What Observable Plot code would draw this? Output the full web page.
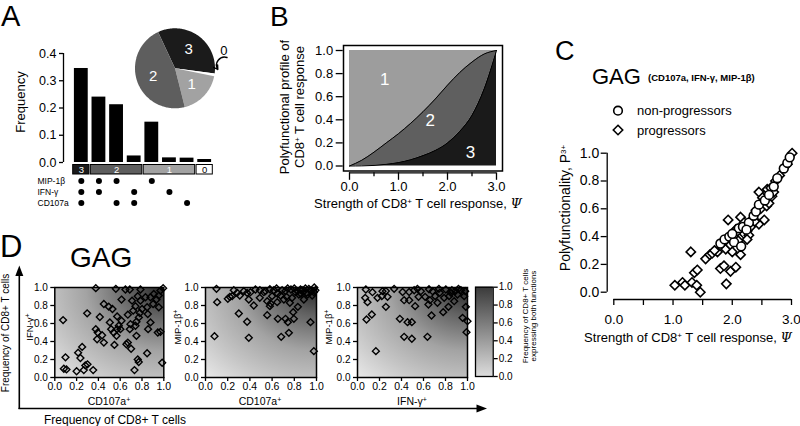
<!DOCTYPE html>
<html><head><meta charset="utf-8">
<script src="https://cdn.jsdelivr.net/npm/d3@7"></script>
<script src="https://cdn.jsdelivr.net/npm/@observablehq/plot@0.6"></script>
<style>
html,body{margin:0;padding:0;background:#fff;}
#root{position:relative;width:800px;height:426px;overflow:hidden;font-family:"Liberation Sans",Arial,sans-serif;}
.p{position:absolute;}
.p svg{overflow:visible;display:block;}
#ov{position:absolute;left:0;top:0;pointer-events:none;font-family:"Liberation Sans",Arial,sans-serif;}
</style></head><body><div id="root"></div>
<script>
// ---------- DATA ----------
// Panel A: frequency of each function combination
const aFrequency = [0.345, 0.24, 0.212, 0.024, 0.148, 0.017, 0.016, 0.011];
const aMIP = [1, 1, 1, 0, 1, 0, 0, 0];
const aIFN = [1, 1, 0, 1, 0, 1, 0, 0];
const aCD107 = [1, 0, 1, 1, 0, 0, 1, 0];
const aMarkers = ["MIP-1β", "IFN-γ", "CD107a"];
const aYTicks = [0, 0.1, 0.2, 0.3, 0.4];
const aGroupNames = ["3", "2", "1", "0"];
const aGroupStart = [0, 1, 4, 7];
const aGroupEnd = [1, 4, 7, 8];
const aPieOrder = ["3", "0", "1", "2"];
const groupColor = {"3": "#1b1b1b", "2": "#5e5e5e", "1": "#a2a2a2", "0": "#ffffff"};

// Panel B: boundaries between 1, 2 and 3 functions
const bPsi   = [0, 0.25, 0.5, 0.75, 1.0, 1.25, 1.5, 1.75, 2.0, 2.25, 2.5, 2.75, 3.0];
const bUpper = [0, 0.05, 0.12, 0.2, 0.28, 0.37, 0.47, 0.58, 0.7, 0.81, 0.9, 0.97, 1.0];
const bLower = [0, 0.001, 0.005, 0.015, 0.03, 0.055, 0.09, 0.135, 0.2, 0.3, 0.44, 0.67, 1.0];
const bRegion = ["1", "2", "3"];
const bRegionX = [0.72, 1.65, 2.47];
const bRegionY = [0.75, 0.39, 0.12];
const bXTicks = [0, 1, 2, 3];
const bXMinor = [0.5, 1.5, 2.5];
const bYTicks = [0, 0.2, 0.4, 0.6, 0.8, 1.0];

// Panel C
const cNonX = [1.80,1.87,1.95,2.03,2.07,2.11,2.18,2.28,2.36,2.40,2.45,2.55,2.62,2.70,2.76,2.87,2.93,2.97,2.00,2.15,2.24];
const cNonY = [0.35,0.38,0.40,0.36,0.44,0.46,0.47,0.50,0.55,0.58,0.63,0.66,0.70,0.76,0.82,0.89,0.93,0.97,0.42,0.33,0.45];
const cProgX = [1.03,1.16,1.20,1.32,1.30,1.36,1.41,1.40,1.46,1.55,1.62,1.66,1.80,1.86,1.90,1.97,2.06,1.93,1.89,1.97,2.00,2.14,2.14,2.06,2.20,2.25,2.28,2.31,2.40,2.45,2.48,2.54,2.45,2.51,2.59,2.67,2.73,2.93,3.01,2.35,2.58,2.65,2.20,2.25,2.80,1.75,1.70,2.10,2.38,2.62,2.70];
const cProgY = [0.05,0.07,0.05,0.07,0.29,0.14,0.16,0.05,0.00,0.24,0.27,0.28,0.17,0.19,0.06,0.15,0.18,0.52,0.31,0.34,0.29,0.27,0.54,0.45,0.42,0.44,0.41,0.47,0.59,0.49,0.60,0.52,0.72,0.68,0.74,0.69,0.80,0.92,1.00,0.53,0.62,0.75,0.50,0.38,0.84,0.29,0.30,0.37,0.51,0.64,0.72];
const cXTicks = [0, 0.5, 1, 1.5, 2, 2.5, 3];
const cYTicks = [0, 0.2, 0.4, 0.6, 0.8, 1.0];

// Panel D
const d1X = [0.076,0.098,0.083,0.107,0.20,0.214,0.251,0.235,0.266,0.28,0.30,0.352,0.297,0.376,0.413,0.376,0.394,0.434,0.388,0.45,0.45,0.495,0.529,0.505,0.517,0.54,0.56,0.572,0.587,0.612,0.566,0.547,0.612,0.648,0.688,0.709,0.67,0.719,0.694,0.688,0.67,0.657,0.70,0.749,0.761,0.77,0.731,0.74,0.761,0.786,0.801,0.78,0.749,0.74,0.786,0.832,0.847,0.853,0.878,0.856,0.847,0.878,0.908,0.933,0.954,0.969,0.902,0.945,0.969,0.985,0.994,0.602,0.572,0.771,0.954];
const d1Y = [0.638,0.224,0.097,0.09,0.07,0.276,0.34,0.216,0.082,0.134,0.146,0.082,0.713,0.993,0.672,0.537,0.50,0.47,0.425,0.388,0.817,0.787,0.761,0.612,0.537,0.50,0.985,0.679,0.575,0.63,0.463,0.362,0.866,0.978,0.978,0.854,0.698,0.743,0.593,0.537,0.388,0.37,0.32,0.463,0.20,0.172,0.082,0.791,0.903,0.854,0.761,0.716,0.619,0.575,0.978,0.892,0.78,0.705,0.612,0.537,0.269,0.892,0.929,0.866,0.91,0.966,0.817,0.50,0.507,0.164,0.993,0.537,0.537,0.668,0.78];
const d2X = [0.081,0.105,0.099,0.201,0.219,0.24,0.255,0.285,0.30,0.309,0.375,0.39,0.39,0.405,0.435,0.45,0.489,0.526,0.556,0.556,0.58,0.586,0.60,0.616,0.652,0.646,0.682,0.676,0.69,0.721,0.73,0.742,0.751,0.76,0.77,0.78,0.79,0.796,0.832,0.841,0.856,0.886,0.91,0.931,0.946,0.961,0.976,0.99,0.345,0.375,0.49,0.54,0.72,0.81,0.87,0.92,0.976,0.706,0.58,0.64,0.65,0.74,0.80,0.83,0.86,0.90,0.95,0.98];
const d2Y = [0.459,0.837,0.985,0.874,0.896,0.904,0.97,0.941,0.711,0.911,0.619,0.441,0.867,0.948,0.80,0.978,0.885,0.948,0.693,0.848,0.793,0.822,0.904,0.97,0.652,0.837,0.452,0.911,0.97,0.652,0.896,0.615,0.496,0.83,0.978,0.885,0.726,0.652,0.785,0.922,0.978,0.867,0.941,0.985,0.615,0.911,0.293,0.97,0.959,0.94,0.97,0.96,0.96,0.948,0.97,0.922,0.948,0.867,0.98,0.99,0.93,0.99,0.99,0.96,0.93,0.99,0.96,1.0];
const d3X = [0.07,0.091,0.082,0.13,0.167,0.076,0.136,0.182,0.221,0.227,0.258,0.273,0.333,0.385,0.424,0.424,0.455,0.47,0.494,0.494,0.524,0.515,0.555,0.576,0.615,0.636,0.645,0.658,0.673,0.682,0.706,0.727,0.748,0.779,0.788,0.803,0.827,0.833,0.858,0.879,0.909,0.918,0.955,0.97,0.979,0.991,0.985,1.0,0.258,0.41,0.47,0.545,0.65,0.74,0.85,0.89,0.94];
const d3Y = [0.885,0.837,0.644,0.70,0.293,0.978,0.948,0.885,0.904,0.959,0.785,0.896,0.985,0.652,0.859,0.452,0.615,0.859,0.615,0.43,0.793,0.97,0.896,0.959,0.896,0.452,0.811,0.859,0.689,0.959,0.904,0.83,0.941,0.726,0.885,0.978,0.785,0.904,0.97,0.848,0.922,0.985,0.663,0.904,0.959,0.504,0.785,0.626,0.96,0.95,0.95,0.985,0.98,0.985,0.94,0.96,0.97];
const dTicks = [0, 0.2, 0.4, 0.6, 0.8, 1.0];

// ---------- HELPERS ----------
const FONT = '"Liberation Sans", Arial, sans-serif';
const root = document.getElementById("root");
const baseStyle = {fontFamily: FONT, fontSize: "12px", color: "#000", background: "transparent", overflow: "visible"};
const f1 = d3.format(".1f");
function place(node, left, top) {
  const w = document.createElement("div");
  w.className = "p"; w.style.left = left + "px"; w.style.top = top + "px";
  w.appendChild(node); root.appendChild(w);
}
function gradientRect(id, kind) {
  return (index, scales, values, dim) => {
    const g = d3.create("svg:g");
    const defs = g.append("defs");
    let gr;
    if (kind === "radial") {
      gr = defs.append("radialGradient").attr("id", id).attr("cx", 1).attr("cy", 0).attr("r", 1.42);
      [[0, "#262626"], [0.22, "#626262"], [0.5, "#a3a3a3"], [0.76, "#c6c6c6"], [1, "#e9e9e9"]]
        .forEach(([o, c]) => gr.append("stop").attr("offset", o).attr("stop-color", c));
    } else {
      gr = defs.append("linearGradient").attr("id", id).attr("x1", 0).attr("y1", 1).attr("x2", 0).attr("y2", 0);
      [[0, "#dcdcdc"], [1, "#3a3a3a"]].forEach(([o, c]) => gr.append("stop").attr("offset", o).attr("stop-color", c));
    }
    g.append("rect").attr("x", dim.marginLeft).attr("y", dim.marginTop)
      .attr("width", dim.width - dim.marginLeft - dim.marginRight)
      .attr("height", dim.height - dim.marginTop - dim.marginBottom)
      .attr("fill", `url(#${id})`);
    return g.node();
  };
}

// ---------- PANEL A: bars ----------
const bars = aFrequency.map((v, i) => ({i, v, n: aMIP[i] + aIFN[i] + aCD107[i]}));
place(Plot.plot({
  width: 230, height: 215, marginLeft: 72, marginRight: 17, marginTop: 53, marginBottom: 53,
  style: baseStyle,
  x: {domain: [0, 8], axis: null},
  y: {domain: [0, 0.4]},
  marks: [
    Plot.rectY(bars, {x1: "i", x2: d => d.i + 1, y: "v", fill: "#000", insetLeft: 1.9, insetRight: 1.9}),
    Plot.ruleX([0], {dx: -9, stroke: "#000", strokeWidth: 1.3}),
    Plot.axisY({ticks: aYTicks, tickFormat: f1, tickSize: 4, tickPadding: 3, dx: -9, fontSize: 12.5, label: null, strokeWidth: 1.3})
  ]
}), 0, 0);

// ---------- PANEL A: group strip + marker dots ----------
const rows = ["grp", ...aMarkers];
const groups = aGroupNames.map((g, k) => ({g, start: aGroupStart[k], end: aGroupEnd[k]}));
const dots = [];
bars.forEach(b => {
  if (aMIP[b.i]) dots.push({i: b.i, row: "MIP-1β"});
  if (aIFN[b.i]) dots.push({i: b.i, row: "IFN-γ"});
  if (aCD107[b.i]) dots.push({i: b.i, row: "CD107a"});
});
place(Plot.plot({
  width: 230, height: 55, marginLeft: 72, marginRight: 17, marginTop: 3, marginBottom: 7,
  style: baseStyle,
  x: {domain: [0, 8], axis: null},
  y: {domain: rows, axis: null, padding: 0},
  color: {type: "identity"},
  marks: [
    Plot.barX(groups, {x1: "start", x2: "end", y: () => "grp", fill: d => groupColor[d.g], stroke: "#000", strokeWidth: 1, insetLeft: 0.7, insetRight: 0.7, insetTop: 0.5, insetBottom: 1}),
    Plot.text(groups, {x: d => (d.start + d.end) / 2, y: () => "grp", dy: -0.5, text: "g", fill: d => d.g === "0" ? "#000" : "#fff", fontSize: 9.5}),
    Plot.dot(dots, {x: d => d.i + 0.5, y: "row", r: 3, fill: "#000", stroke: "none"}),
    Plot.text(aMarkers, {y: d => d, text: d => d, frameAnchor: "left", textAnchor: "start", dx: -35, fontSize: 8.5})
  ]
}), 0, 160);

// ---------- PANEL A: pie ----------
const pieVals = aPieOrder.map(g => ({g, v: d3.sum(bars.filter(b => String(b.n) === g), b => b.v)}));
const arcs = d3.pie().value(d => d.v).sort(null)
  .startAngle(-25 * Math.PI / 180).endAngle(335 * Math.PI / 180)(pieVals);
const pieMarks = arcs.map(a => {
  const n = Math.max(2, Math.ceil((a.endAngle - a.startAngle) / 0.02));
  const pts = [{x: 0, y: 0}];
  for (let k = 0; k <= n; k++) {
    const t = a.startAngle + (a.endAngle - a.startAngle) * k / n;
    pts.push({x: Math.sin(t), y: Math.cos(t)});
  }
  return Plot.line(pts, {x: "x", y: "y", fill: groupColor[a.data.g], stroke: "none", curve: "linear-closed"});
});
const pieLabels = arcs.filter(a => a.data.g !== "0");
place(Plot.plot({
  width: 110, height: 90, marginLeft: 4.5, marginRight: 25.5, marginTop: 2.8, marginBottom: 7.2,
  style: baseStyle,
  x: {domain: [-1, 1], axis: null},
  y: {domain: [-1, 1], axis: null},
  marks: [
    ...pieMarks,
    Plot.text(pieLabels, {
      x: a => 0.58 * Math.sin((a.startAngle + a.endAngle) / 2),
      y: a => 0.58 * Math.cos((a.startAngle + a.endAngle) / 2),
      text: a => a.data.g, fill: "#fff", fontSize: 15
    }),
    Plot.text(["0"], {x: () => 1.22, y: () => 0.43, text: d => d, fontSize: 13, fill: "#000"}),
    Plot.arrow([{x1: 1.3, y1: 0.27, x2: 1.07, y2: -0.03}], {x1: "x1", y1: "y1", x2: "x2", y2: "y2", bend: -70, headLength: 5, stroke: "#000", strokeWidth: 1.4})
  ]
}), 130, 25);

// ---------- PANEL B ----------
const bData = bPsi.map((x, i) => ({x, upper: bUpper[i], lower: bLower[i]}));
const bLab = bRegion.map((t, i) => ({t, x: bRegionX[i], y: bRegionY[i]}));
place(Plot.plot({
  width: 260, height: 185, marginLeft: 79, marginRight: 34, marginTop: 20, marginBottom: 49.5,
  style: baseStyle,
  x: {domain: [0, 3]},
  y: {domain: [0, 1]},
  marks: [
    Plot.areaY(bData, {x: "x", y1: "upper", y2: () => 1, fill: "#9d9d9d", curve: "monotone-x"}),
    Plot.areaY(bData, {x: "x", y1: "lower", y2: "upper", fill: "#5f5f5f", curve: "monotone-x"}),
    Plot.areaY(bData, {x: "x", y1: () => 0, y2: "lower", fill: "#1a1a1a", curve: "monotone-x"}),
    Plot.line(bData, {x: "x", y: "upper", stroke: "#000", strokeWidth: 1, curve: "monotone-x"}),
    Plot.line(bData, {x: "x", y: "lower", stroke: "#000", strokeWidth: 1, curve: "monotone-x"}),
    Plot.text(bLab, {x: "x", y: "y", text: "t", fill: "#fff", fontSize: 17}),
    Plot.frame({stroke: "#000", strokeWidth: 1.5, insetLeft: -6, insetRight: -6, insetTop: -5, insetBottom: -5}),
    Plot.axisY({ticks: bYTicks, tickFormat: f1, tickSize: 7, tickPadding: 3, dx: -6.3, fontSize: 13, label: null, strokeWidth: 1.3}),
    Plot.ruleY([0], {dy: 6.8, stroke: "#000", strokeWidth: 1.3}),
    Plot.axisX({ticks: bXTicks, tickFormat: f1, tickSize: 7.5, tickPadding: 1, dy: 6.8, fontSize: 13, label: null, strokeWidth: 1.3}),
    Plot.axisX({ticks: bXMinor, tickFormat: () => "", tickSize: 4, dy: 6.8, label: null, strokeWidth: 1.3})
  ]
}), 270, 30);

// ---------- PANEL C ----------
const cNon = cNonX.map((x, i) => ({x, y: cNonY[i]}));
const cProg = cProgX.map((x, i) => ({x, y: cProgY[i]}));
place(Plot.plot({
  width: 250, height: 210, marginLeft: 63.3, marginRight: 9, marginTop: 12.7, marginBottom: 58.3,
  style: baseStyle,
  x: {domain: [0, 3]},
  y: {domain: [0, 1]},
  marks: [
    Plot.ruleX([0], {dx: -6.6, stroke: "#000", strokeWidth: 1.3}),
    Plot.axisY({ticks: cYTicks, tickFormat: f1, tickSize: 6, tickPadding: 2, dx: -6.6, fontSize: 14, label: null, strokeWidth: 1.3}),
    Plot.ruleY([0], {dy: 7.3, stroke: "#000", strokeWidth: 1.3}),
    Plot.axisX({ticks: cXTicks, tickFormat: d => Number.isInteger(d) ? d.toFixed(1) : "", tickSize: 6, tickPadding: 9, dy: 7.3, fontSize: 13.5, label: null, strokeWidth: 1.3}),
    Plot.dot(cProg, {x: "x", y: "y", symbol: "diamond2", r: 4.2, stroke: "#000", strokeWidth: 1.6, fill: "#fff"}),
    Plot.dot(cNon, {x: "x", y: "y", symbol: "circle", r: 4.4, stroke: "#000", strokeWidth: 1.6, fill: "#fff"})
  ]
}), 550, 140);

// ---------- PANEL D ----------
function dPanel(xs, ys, id, left, marginLeft, marginRight) {
  const pts = xs.map((x, i) => ({x, y: ys[i]}));
  place(Plot.plot({
    width: 150, height: 130, marginLeft, marginRight, marginTop: 17, marginBottom: 23,
    style: baseStyle,
    x: {domain: [0, 1]},
    y: {domain: [0, 1]},
    marks: [
      gradientRect(id, "radial"),
      Plot.dot(pts, {x: "x", y: "y", symbol: "diamond2", r: 3.1, stroke: "#000", strokeWidth: 1.4, fill: "none"}),
      Plot.frame({stroke: "#000", strokeWidth: 1.5}),
      Plot.axisY({ticks: dTicks, tickFormat: f1, tickSize: 4, tickPadding: 3, fontSize: 10, label: null, strokeWidth: 1.3}),
      Plot.axisX({ticks: dTicks, tickFormat: f1, tickSize: 4, tickPadding: 1.5, fontSize: 10.5, label: null, strokeWidth: 1.3})
    ]
  }), left, 270);
}
dPanel(d1X, d1Y, "gd1", 20, 34.3, 6.7);
dPanel(d2X, d2Y, "gd2", 170, 35, 4);
dPanel(d3X, d3Y, "gd3", 322, 35, 5);

// colour bar
place(Plot.plot({
  width: 60, height: 130, marginLeft: 5, marginRight: 37.3, marginTop: 16.7, marginBottom: 24,
  style: baseStyle,
  y: {domain: [0, 1]},
  marks: [
    gradientRect("gcb", "linear"),
    Plot.frame({stroke: "#000", strokeWidth: 1.3}),
    Plot.axisY({anchor: "right", ticks: dTicks, tickFormat: f1, tickSize: 4, tickPadding: 1.5, fontSize: 10, label: null, strokeWidth: 1.3})
  ]
}), 470, 270);

// ---------- TEXT OVERLAY ----------
const sup = (s, fs) => `<tspan font-size="${fs || 8}" baseline-shift="super">${s}</tspan>`;
function T(x, y, txt, o = {}) {
  return `<text x="${x}" y="${y}" font-size="${o.size || 12}" text-anchor="${o.anchor || "start"}"` +
    (o.weight ? ` font-weight="${o.weight}"` : "") +
    (o.rot ? ` transform="rotate(-90 ${x} ${y})"` : "") + `>${txt}</text>`;
}
const psi = `<tspan font-style="italic" font-family="DejaVu Serif, serif">Ψ</tspan>`;
const ov = [
  T(1, 26, "A", {size: 29}),
  T(270, 25.5, "B", {size: 28}),
  T(555, 60, "C", {size: 27}),
  T(0, 257, "D", {size: 31}),
  T(25, 102, "Frequency", {size: 13, anchor: "middle", rot: true}),
  T(289, 107, "Polyfunctional profile of", {size: 13, anchor: "middle", rot: true}),
  T(303.5, 107, "CD8" + sup("+") + " T cell response", {size: 13, anchor: "middle", rot: true}),
  T(418, 207.5, "Strength of CD8" + sup("+") + " T cell response, " + psi, {size: 13, anchor: "middle"}),
  T(592, 83.5, "GAG", {size: 22}),
  T(648, 81, "(CD107a, IFN-γ, MIP-1β)", {size: 9.5, weight: "bold"}),
  T(637, 115, "non-progressors", {size: 13}),
  T(637, 134.5, "progressors", {size: 13}),
  T(570, 208, "Polyfunctionality, P" + sup("3+"), {size: 14, anchor: "middle", rot: true}),
  T(688, 342, "Strength of CD8" + sup("+") + " T cell response, " + psi, {size: 13, anchor: "middle"}),
  T(70, 267, "GAG", {size: 28}),
  T(9, 333, "Frequency of CD8+ T cells", {size: 10, anchor: "middle", rot: true}),
  T(115, 424, "Frequency of CD8+ T cells", {size: 12, anchor: "middle"}),
  T(32.5, 327, "IFN-γ" + sup("+", 7), {size: 9.5, anchor: "middle", rot: true}),
  T(181, 327, "MIP-1β" + sup("+", 7), {size: 9.5, anchor: "middle", rot: true}),
  T(331.5, 327, "MIP-1β" + sup("+", 7), {size: 9.5, anchor: "middle", rot: true}),
  T(109, 405, "CD107a" + sup("+", 7), {size: 10.5, anchor: "middle"}),
  T(260, 405, "CD107a" + sup("+", 7), {size: 10.5, anchor: "middle"}),
  T(412, 405, "IFN-γ" + sup("+", 7), {size: 10.5, anchor: "middle"}),
  T(528, 316, "Frequency of CD8+ T cells", {size: 8, anchor: "middle", rot: true}),
  T(536, 316, "expressing both functions", {size: 8, anchor: "middle", rot: true})
].join("");
const legend =
  `<circle cx="618" cy="110.7" r="4.3" fill="#fff" stroke="#000" stroke-width="1.6"/>` +
  `<path d="M618,125.3 L622.7,130 L618,134.7 L613.3,130 Z" fill="#fff" stroke="#000" stroke-width="1.6"/>`;
const arrows =
  `<line x1="19.3" y1="409" x2="19.3" y2="274" stroke="#000" stroke-width="1.6"/>` +
  `<path d="M19.3,265.5 L15.3,276 L23.3,276 Z" fill="#000"/>` +
  `<line x1="18.5" y1="408.5" x2="478" y2="408.5" stroke="#000" stroke-width="1.6"/>` +
  `<path d="M487,408.5 L476.5,404.5 L476.5,412.5 Z" fill="#000"/>`;
const ovDiv = document.createElement("div");
ovDiv.innerHTML = `<svg id="ov" width="800" height="426" viewBox="0 0 800 426" fill="#000">${ov}${legend}${arrows}</svg>`;
root.appendChild(ovDiv.firstChild);
</script>
</body></html>
